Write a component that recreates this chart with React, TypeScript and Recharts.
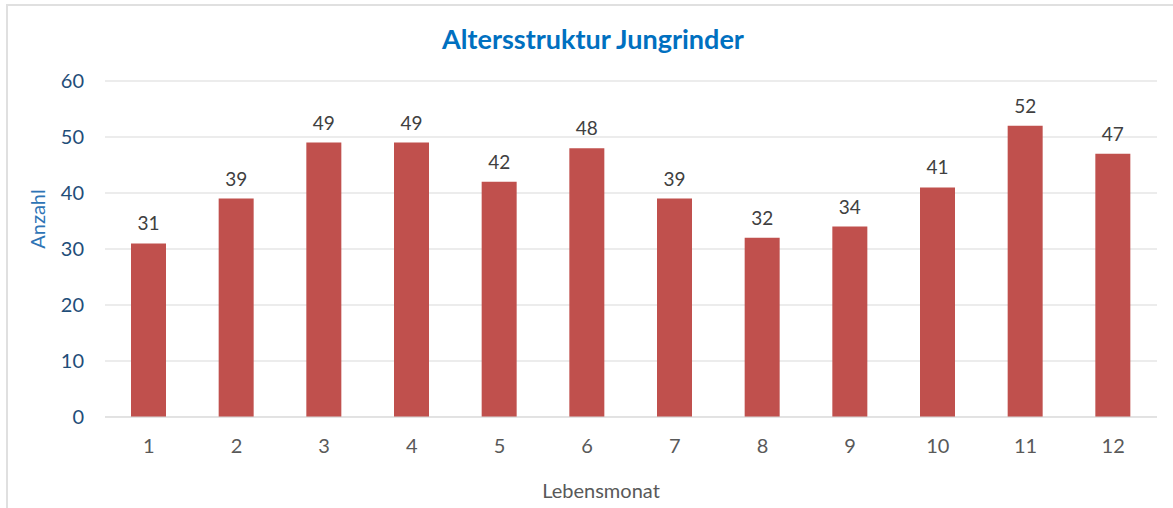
import { BarChart, Bar, XAxis, YAxis, CartesianGrid, LabelList } from 'recharts';

const FONT = 'Lato, "Noto Sans", sans-serif';
const BAR = '#c0504d';
const GRID = '#d9d9d9';
const Y_TICK = '#1f4e79';
const X_TICK = '#595959';

// Lebensmonat 1..12
const months = ['1', '2', '3', '4', '5', '6', '7', '8', '9', '10', '11', '12'];
const counts = [31, 39, 49, 49, 42, 48, 39, 32, 34, 41, 52, 47];
const yTicks = [0, 10, 20, 30, 40, 50, 60];

const data = months.map((m, i) => ({ month: m, anzahl: counts[i] }));

const App = () => (
  <div style={{ position: 'fixed', left: 0, top: 0, width: 1173, height: 508, overflow: 'hidden', background: '#fff', fontFamily: FONT }}>
    {/* Diagrammrahmen, rechts und unten abgeschnitten */}
    <div style={{ position: 'absolute', left: 6, top: 4, width: 1300, height: 700, border: '2px solid #e0e0e0' }} />
    <div style={{ position: 'absolute', left: 393, top: 22, width: 400, textAlign: 'center', fontSize: 27, fontWeight: 700, color: '#0070c0', lineHeight: '34px' }}>
      Altersstruktur Jungrinder
    </div>
    <div style={{ position: 'absolute', left: 0, top: 0 }}>
      <BarChart width={1173} height={508} data={data} margin={{ top: 81, right: 16, bottom: 31, left: 30 }}>
        <CartesianGrid stroke={GRID} vertical={false} />
        <XAxis
          dataKey="month"
          height={60}
          axisLine={{ stroke: GRID }}
          tickLine={false}
          tickMargin={16}
          tick={{ fill: X_TICK, fontSize: 20, fontFamily: FONT }}
          label={{ value: 'Lebensmonat', position: 'insideBottom', offset: -21, dx: -30, fill: X_TICK, fontSize: 20, fontFamily: FONT }}
        />
        <YAxis
          width={75}
          domain={[0, 60]}
          ticks={yTicks}
          axisLine={false}
          tickLine={false}
          tickMargin={15}
          tick={{ fill: Y_TICK, fontSize: 20, fontFamily: FONT }}
          label={{
            value: 'Anzahl',
            content: () => (
              <text x={37} y={219} transform="rotate(-90 37 219)" textAnchor="middle" dominantBaseline="central"
                fill="#2e74b5" fontSize={20} fontFamily={FONT}>
                Anzahl
              </text>
            ),
          }}
        />
        <Bar dataKey="anzahl" fill={BAR} barSize={35} isAnimationActive={false}>
          <LabelList dataKey="anzahl" position="top" offset={13} fill="#404040" fontSize={19} fontFamily={FONT} />
        </Bar>
      </BarChart>
    </div>
  </div>
);

export default App;
